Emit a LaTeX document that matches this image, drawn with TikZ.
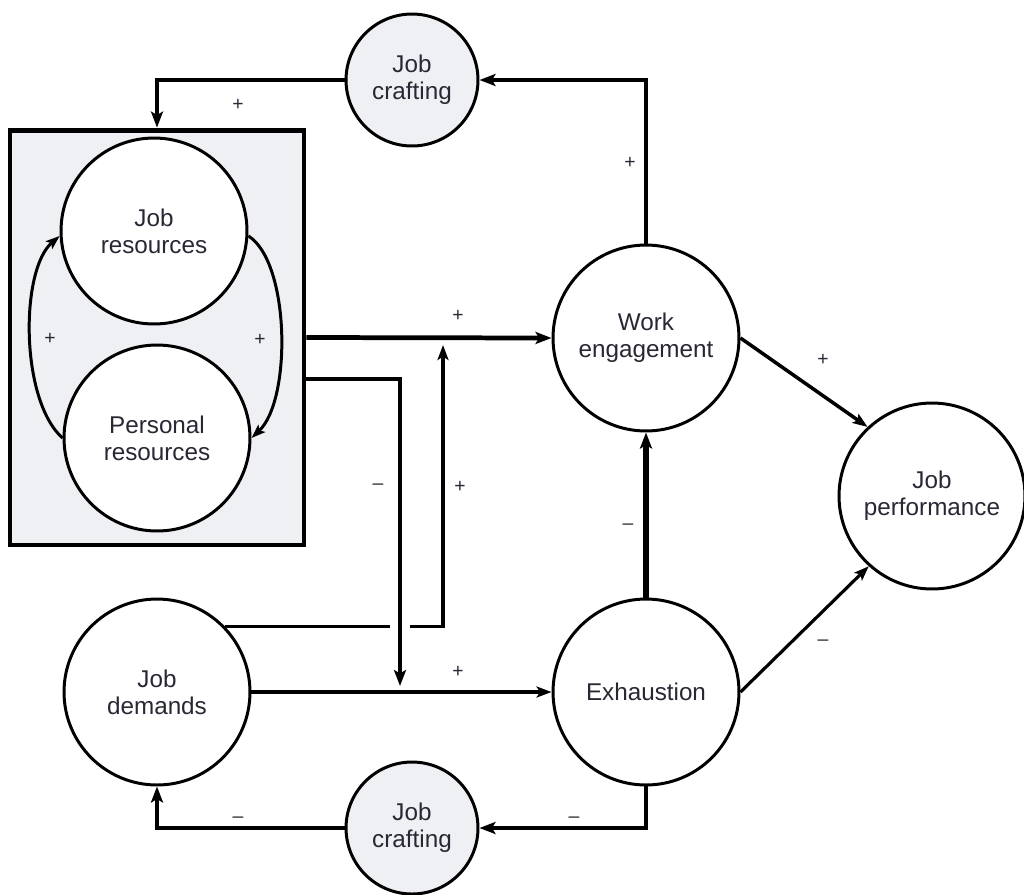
\documentclass[tikz,border=0pt]{standalone}
\usepackage{fontspec}
\setmainfont{Liberation Sans}
\usetikzlibrary{arrows.meta}
\definecolor{boxgray}{RGB}{239, 240, 243}
\definecolor{inkgray}{RGB}{40, 40, 52}

\begin{document}
\begin{tikzpicture}[x=0.02cm, y=-0.02cm,
  every node/.style={text=inkgray, font=\fontsize{13.8}{15.5}\selectfont},
  state/.style={circle, draw, line width=1.7pt, fill=white, minimum size=3.72cm, inner sep=0pt, align=center},
  crafting/.style={state, fill=boxgray, minimum size=2.64cm},
  sign/.style={font=\fontsize{11}{12}\selectfont},
  mainarrow/.style={line width=2.7pt, -{Stealth[length=0.32cm, width=0.24cm, inset=0.07cm]}},
  sidearrow/.style={line width=2pt, -{Stealth[length=0.3cm, width=0.22cm, inset=0.07cm]}},
  looparrow/.style={line width=1.7pt, -{Stealth[length=0.28cm, width=0.2cm, inset=0.06cm]}}]
  \useasboundingbox (0,0) rectangle (1024,894);

  \node[draw, line width=2.8pt, fill=boxgray, minimum width=5.88cm, minimum height=8.3cm] (resbox) at (157,337.5) {};

  \node[state] (jres) at (154,231) {Job\\resources};
  \node[state] (pres) at (157,438) {Personal\\resources};
  \node[state] (eng) at (646,338) {Work\\engagement};
  \node[state] (perf) at (932,496) {Job\\performance};
  \node[state] (exh) at (646,692) {Exhaustion};
  \node[state] (dem) at (157,692) {Job\\demands};
  \node[crafting] (craftT) at (412,80) {Job\\crafting};
  \node[crafting] (craftB) at (412,828) {Job\\crafting};

  % loops inside the box
  \draw[looparrow] (pres.west) .. controls (20,400) and (20,270) .. (jres.183);
  \draw[looparrow] (jres.-3) .. controls (290,262) and (292,400) .. (pres.east);

  % feedback through job crafting
  \draw[mainarrow] (eng.north) |- (craftT.east);
  \draw[mainarrow] (craftT.west) -| (resbox.north);
  \draw[mainarrow] (exh.south) |- (craftB.east);
  \draw[mainarrow] (craftB.west) -| (dem.south);

  \draw[mainarrow] (resbox.east) -- (eng.west);
  \coordinate (rise) at (443,345);
  \draw[sidearrow] (dem.44) -| (rise);
  \fill[white] (390,619) rectangle (410,635);
  \coordinate (drop) at (400,379);
  \coordinate (droptip) at (400,686);
  \draw[mainarrow, line width=2.3pt] (resbox.east |- drop) -- (drop) -- (droptip);

  \draw[sidearrow] (dem.east) -- (exh.west);
  \draw[mainarrow, line width=3pt] (exh.north) -- (eng.south);
  \draw[sidearrow] (eng.east) -- (perf.133);
  \draw[sidearrow, line width=1.8pt] (exh.east) -- (perf.228);

  \foreach \x/\y/\s [count=\i] in {238/105/+, 630/163/+, 50/339/+, 260/340/+, 458/316/+,
      378/487/--, 460/487/+, 458/672/+, 628/527/--, 823/360/+, 823/643/--, 574/820/--, 238/820/--}
    \node[sign] (sign\i) at (\x,\y) {\s};
\end{tikzpicture}
\end{document}
